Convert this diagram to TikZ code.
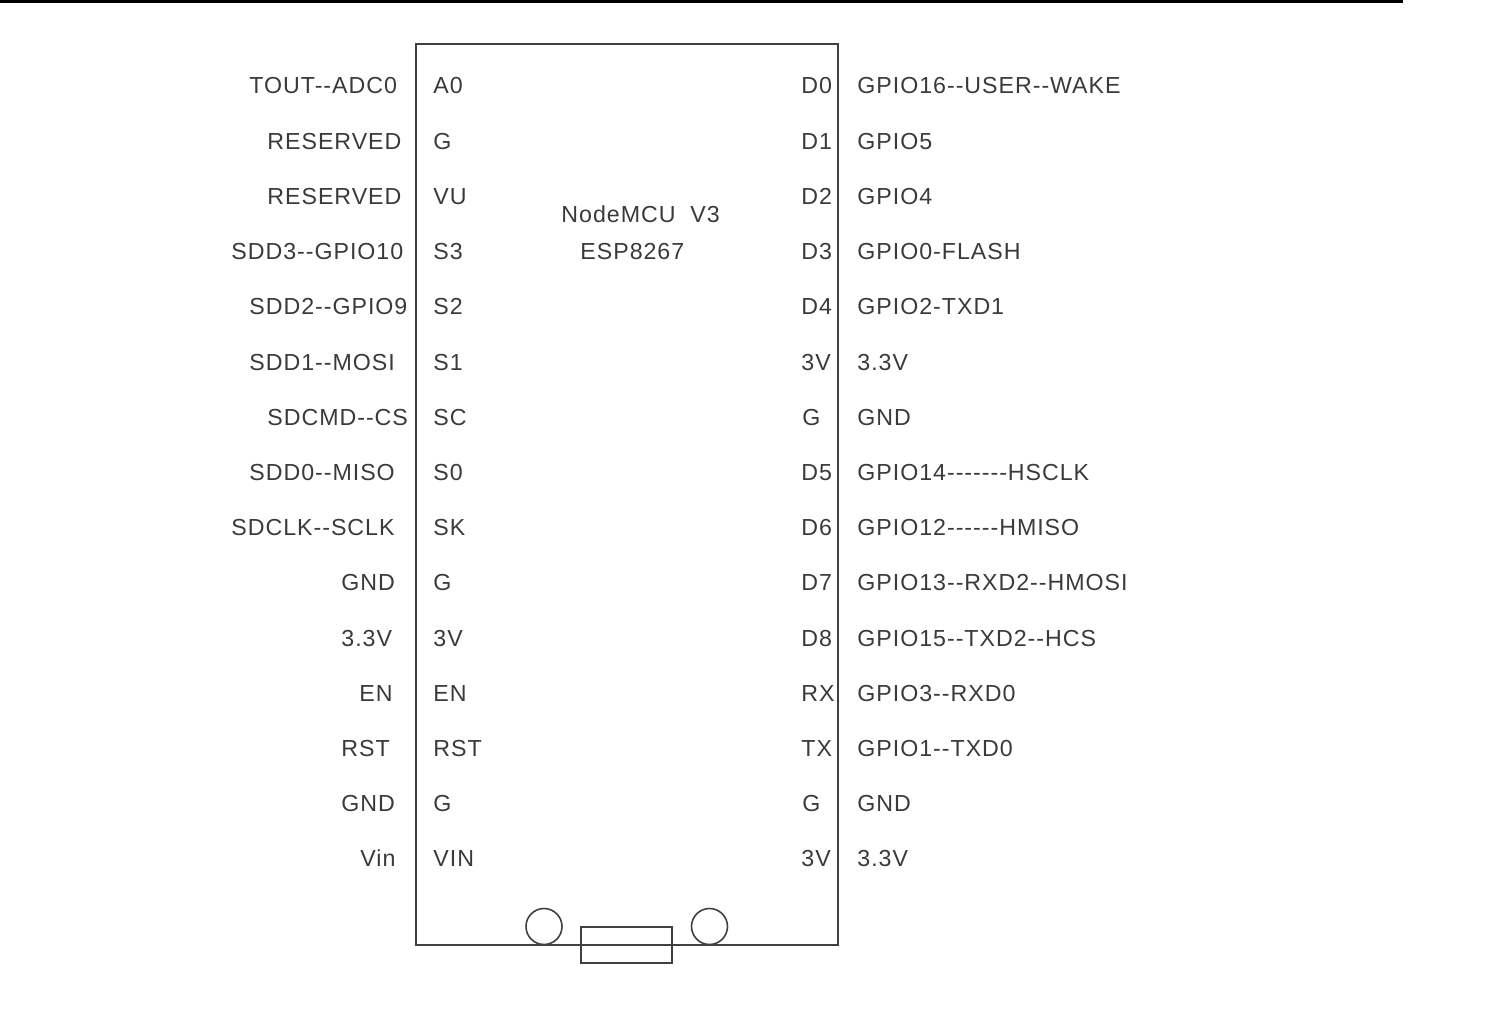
\documentclass[tikz,border=0pt]{standalone}
\usepackage{fontspec}
\newfontfamily\pinfont[LetterSpace=4.2]{Liberation Sans}
\definecolor{inkgray}{HTML}{3A3A3A}
\tikzset{
  pinlabel/.style={anchor=base west, inner sep=0pt, text=inkgray, font=\pinfont\fontsize{11.6pt}{13pt}\selectfont},
  outline/.style={draw=black!75, line width=0.8pt, inner sep=0pt}
}
\begin{document}
\begin{tikzpicture}[x=0.5pt, y=-0.5pt]
  \useasboundingbox (0,0) rectangle (1490,1011);
  \node (rule) [fill=black, inner sep=0pt, minimum width=701.5pt, minimum height=1.5pt, anchor=north west] at (0,0) {};
  \node (board) [outline, minimum width=211pt, minimum height=450.5pt, anchor=north west] at (415,43) {};
  \node (usb) [outline, minimum width=45.5pt, minimum height=18pt] at (626.5,945) {};
  \node (btnleft) [outline, circle, minimum size=18pt] at (544,926.5) {};
  \node (btnright) [outline, circle, minimum size=18pt] at (709.5,926.5) {};
  \foreach \x/\txt [count=\i] in {
    249/TOUT--ADC0, 267/RESERVED, 267/RESERVED, 231/SDD3--GPIO10, 249/SDD2--GPIO9,
    249/SDD1--MOSI, 267/SDCMD--CS, 249/SDD0--MISO, 231/SDCLK--SCLK, 341/GND,
    341/3.3V, 359/EN, 341/RST, 341/GND, 360/Vin}
    \node (sig-l-\i) [pinlabel] at (\x,{94+55.2*(\i-1)}) {\txt};
  \foreach \x/\txt [count=\i] in {
    433/A0, 433/G, 433/VU, 433/S3, 433/S2, 433/S1, 433/SC, 433/S0, 433/SK, 433/G,
    433/3V, 433/EN, 433/RST, 433/G, 433/VIN}
    \node (pin-l-\i) [pinlabel] at (\x,{94+55.2*(\i-1)}) {\txt};
  \foreach \x/\txt [count=\i] in {
    801/D0, 801/D1, 801/D2, 801/D3, 801/D4, 801/3V, 802/G, 801/D5, 801/D6, 801/D7,
    801/D8, 801/RX, 801/TX, 802/G, 801/3V}
    \node (pin-r-\i) [pinlabel] at (\x,{94+55.2*(\i-1)}) {\txt};
  \foreach \txt [count=\i] in {
    GPIO16--USER--WAKE, GPIO5, GPIO4, GPIO0-FLASH, GPIO2-TXD1, 3.3V, GND,
    GPIO14-------HSCLK, GPIO12------HMISO, GPIO13--RXD2--HMOSI, GPIO15--TXD2--HCS,
    GPIO3--RXD0, GPIO1--TXD0, GND, 3.3V}
    \node (sig-r-\i) [pinlabel] at (857,{94+55.2*(\i-1)}) {\txt};
  \node (title) [pinlabel] at (561,222.5) {NodeMCU\ \ V3};
  \node (chip) [pinlabel] at (580,259) {ESP8267};
\end{tikzpicture}
\end{document}
